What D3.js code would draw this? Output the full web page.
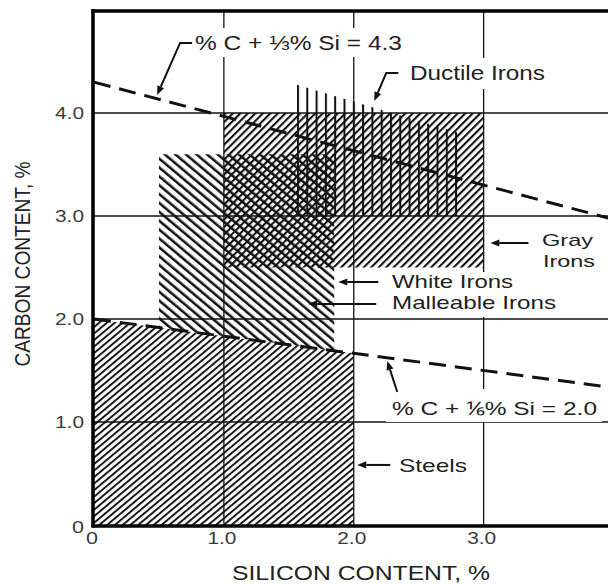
<!DOCTYPE html>
<html>
<head>
<meta charset="utf-8">
<script src="https://cdn.jsdelivr.net/npm/d3@7"></script>
<style>
  html, body { margin: 0; padding: 0; background: #fff; }
  svg { display: block; }
</style>
</head>
<body>
<script>
// ---- Axis ticks -------------------------------------------------------
const siTicks = [0, 1, 2, 3];
const siTickLabels = ["0", "1.0", "2.0", "3.0"];
const cTicks = [0, 1, 2, 3, 4];
const cTickLabels = ["0", "1.0", "2.0", "3.0", "4.0"];

// ---- Composition ranges (polygon corners: silicon %, carbon %) ---------
const steelsSi  = [0, 0, 2.0, 2.0];
const steelsC   = [0, 2.0, 1.667, 0];
const whiteSi   = [0.5, 0.5, 1.85, 1.85];
const whiteC    = [1.917, 3.6, 3.6, 1.692];
const graySi    = [1.0, 1.0, 3.0, 3.0];
const grayC     = [2.5, 4.0, 4.0, 2.5];
const ductileSi = [1.55, 1.55, 2.8, 2.8];
const ductileC  = [3.0, 4.28, 3.81, 3.0];

// ---- Carbon-equivalent lines ------------------------------------------
const ceLineSi  = [0, 4];
const ce43C     = [4.3, 2.967];   // %C + 1/3 %Si = 4.3
const ce20C     = [2.0, 1.333];   // %C + 1/6 %Si = 2.0

// ---- Label leaders (silicon %, carbon %) -------------------------------
const leader43Si = [0.755, 0.663, 0.486];  const leader43C = [4.68, 4.68, 4.175];
const ductLeadSi = [2.343, 2.250, 2.158];  const ductLeadC = [4.388, 4.388, 4.117];
const grayLeadSi = [3.345, 3.052];         const grayLeadC = [2.738, 2.738];
const whiteLeadSi = [2.189, 1.881];        const whiteLeadC = [2.359, 2.359];
const mallLeadSi = [2.173, 1.649];         const mallLeadC = [2.146, 2.146];
const leader20Si = [2.335, 2.258];         const leader20C = [1.291, 1.592];
const steelLeadSi = [2.281, 2.027];        const steelLeadC = [0.583, 0.583];

const W = 608, H = 584;
const x = d3.scaleLinear().domain([0, 4]).range([94, 613.5]);
const y = d3.scaleLinear().domain([0, 5]).range([525, 10]);

const svg = d3.select("body").append("svg")
  .attr("width", W).attr("height", H)
  .attr("viewBox", `0 0 ${W} ${H}`);

const defs = svg.append("defs");
function hatch(id, angle, spacing, width, offset = 0) {
  const p = defs.append("pattern")
    .attr("id", id)
    .attr("patternUnits", "userSpaceOnUse")
    .attr("width", spacing).attr("height", 20)
    .attr("patternTransform", `rotate(${angle}) translate(${offset},0)`);
  p.append("rect").attr("x", 0).attr("y", 0)
    .attr("width", width).attr("height", 20).attr("fill", "#111");
}
hatch("h-steel", 50, 5.0, 1.9);
hatch("h-gray", 45, 5.3, 2.1);
hatch("h-white", -50, 6.8, 2.5);
hatch("h-duct", 0, 9.3, 2.0, 297 % 9.3);

// ---- Grid --------------------------------------------------------------
const grid = svg.append("g").attr("stroke", "#111").attr("stroke-width", 1.3);
grid.selectAll("line.v").data(siTicks.filter(d => d > 0)).join("line")
  .attr("x1", d => x(d)).attr("x2", d => x(d))
  .attr("y1", y(0)).attr("y2", y(5));
grid.selectAll("line.h").data(cTicks.filter(d => d > 0)).join("line")
  .attr("x1", x(0)).attr("x2", x(4))
  .attr("y1", d => y(d)).attr("y2", d => y(d));

// ---- Hatched composition fields ---------------------------------------
const poly = (si, c) => si.map((s, i) => [x(s), y(c[i])]);
const lineGen = d3.line();
const fields = [
  { si: steelsSi, c: steelsC, fill: "url(#h-steel)" },
  { si: whiteSi, c: whiteC, fill: "url(#h-white)" },
  { si: graySi, c: grayC, fill: "url(#h-gray)" },
  { si: ductileSi, c: ductileC, fill: "url(#h-duct)" }
];
svg.append("g").selectAll("path").data(fields).join("path")
  .attr("d", d => lineGen(poly(d.si, d.c)) + "Z")
  .attr("fill", d => d.fill);

// ---- Carbon-equivalent dashed lines -----------------------------------
svg.append("g").selectAll("path").data([ce43C, ce20C]).join("path")
  .attr("d", c => lineGen(poly(ceLineSi, c)))
  .attr("fill", "none").attr("stroke", "#111")
  .attr("stroke-width", 3).attr("stroke-dasharray", "17,9");

// ---- Frame -------------------------------------------------------------
const frame = svg.append("g").attr("stroke", "#000").attr("stroke-width", 3.6);
frame.append("line").attr("x1", 93).attr("x2", 93).attr("y1", 9).attr("y2", 527.5);
frame.append("line").attr("x1", 91.5).attr("x2", W).attr("y1", 11).attr("y2", 11);
frame.append("line").attr("x1", 91.5).attr("x2", W).attr("y1", 526).attr("y2", 526);

// ---- Label backgrounds (text sits on white) ---------------------------
const boxes = [[188, 28, 219, 29], [403, 58, 150, 31], [375, 272, 190, 45], [386, 389, 216, 33]];
svg.append("g").selectAll("rect").data(boxes).join("rect")
  .attr("x", d => d[0]).attr("y", d => d[1])
  .attr("width", d => d[2]).attr("height", d => d[3])
  .attr("fill", "#fff");

// ---- Tick labels -------------------------------------------------------
const font = "'Liberation Sans', Arial, Helvetica, sans-serif";
function txt(s, left, base, size, len, color = "#222") {
  svg.append("text")
    .attr("x", left).attr("y", base)
    .attr("font-family", font).attr("font-size", size)
    .attr("fill", color)
    .attr("textLength", len).attr("lengthAdjust", "spacingAndGlyphs")
    .text(s);
}
siTicks.forEach((d, i) => {
  const w = siTickLabels[i].length > 1 ? 29 : 12;
  txt(siTickLabels[i], x(d) - 2 - w / 2, 544, 16, w, "#3a3a3a");
});
cTicks.forEach((d, i) => {
  const w = cTickLabels[i].length > 1 ? 29 : 12;
  const yy = d === 0 ? y(d) + 8 : y(d) + 6;
  txt(cTickLabels[i], 84 - w, yy, 16, w, "#3a3a3a");
});

// ---- Axis titles -------------------------------------------------------
svg.append("text")
  .attr("transform", "translate(30,264) scale(1.2,1) rotate(-90)")
  .attr("text-anchor", "middle")
  .attr("font-family", font).attr("font-size", 19).attr("fill", "#222")
  .attr("textLength", 205).attr("lengthAdjust", "spacingAndGlyphs")
  .text("CARBON CONTENT, %");
txt("SILICON CONTENT, %", 232, 580, 20, 258);

// ---- Field and line labels --------------------------------------------
txt("% C + \u2153% Si = 4.3", 195, 50, 19.5, 207);
txt("Ductile Irons", 410, 80, 20, 135);
txt("Gray", 542, 246, 17, 51);
txt("Irons", 543, 267, 17, 52);
txt("White Irons", 392, 288, 18.5, 121);
txt("Malleable Irons", 392, 309, 18.5, 164);
txt("% C + \u2159% Si = 2.0", 392, 415, 18.5, 205);
txt("Steels", 399, 472, 18.5, 68);

// ---- Leaders with arrowheads ------------------------------------------
const leaders = [
  [leader43Si, leader43C], [ductLeadSi, ductLeadC], [grayLeadSi, grayLeadC],
  [whiteLeadSi, whiteLeadC], [mallLeadSi, mallLeadC], [leader20Si, leader20C],
  [steelLeadSi, steelLeadC]
];
const lg = svg.append("g");
leaders.forEach(([si, c]) => {
  const pts = poly(si, c);
  const n = pts.length;
  const [tx, ty] = pts[n - 1];
  const [px, py] = pts[n - 2];
  const len = Math.hypot(tx - px, ty - py);
  const ux = (tx - px) / len, uy = (ty - py) / len;
  const hl = 9, hw = 3.6;
  const bx = tx - ux * hl, by = ty - uy * hl;
  lg.append("path")
    .attr("d", lineGen(pts.slice(0, n - 1).concat([[bx, by]])))
    .attr("fill", "none").attr("stroke", "#111").attr("stroke-width", 2);
  lg.append("path")
    .attr("d", `M${tx},${ty}L${bx - uy * hw},${by + ux * hw}L${bx + uy * hw},${by - ux * hw}Z`)
    .attr("fill", "#111");
});
</script>
</body>
</html>
